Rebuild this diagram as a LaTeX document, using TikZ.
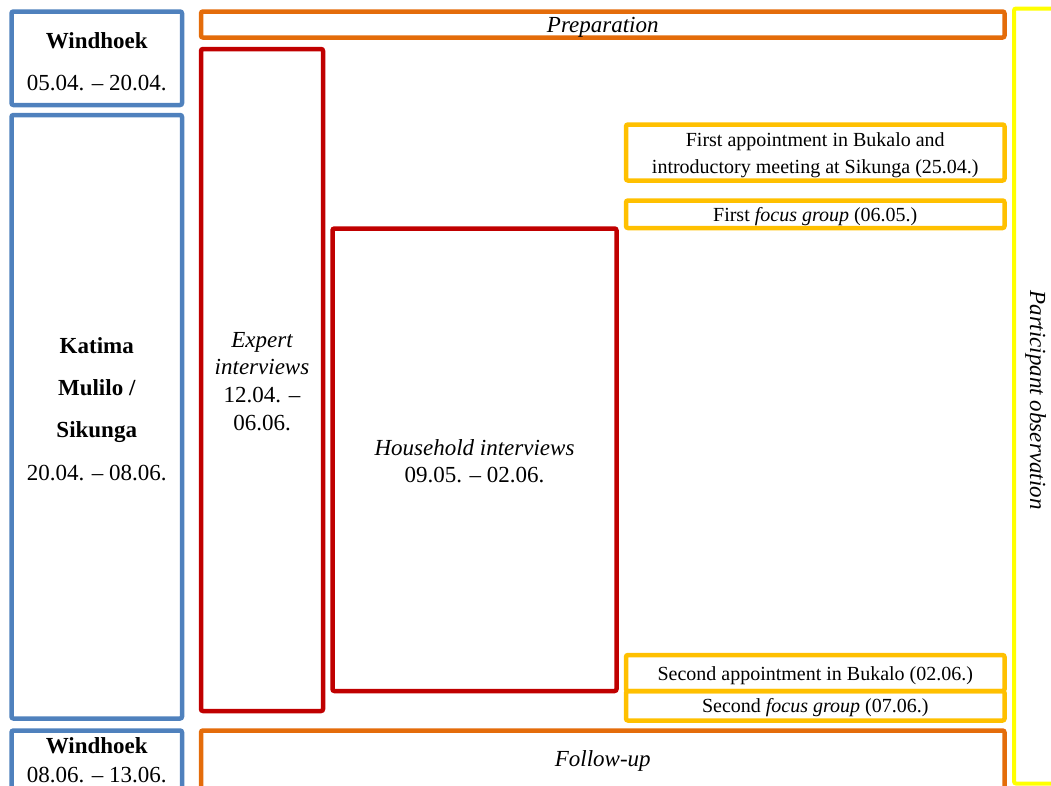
\documentclass[tikz,border=0pt]{standalone}
\usepackage{fontspec}
\setmainfont{Liberation Serif}
\definecolor{cblue}{HTML}{4F81BD}
\definecolor{corange}{HTML}{E46C0A}
\definecolor{cred}{HTML}{C00000}
\definecolor{cgold}{HTML}{FFC000}
\definecolor{cyellow}{HTML}{FFFF00}
\tikzset{
  frame/.style={draw, line width=4.5pt, rounded corners=2pt, inner sep=0pt, fill=none},
  placebox/.style={frame, draw=cblue},
  phasebox/.style={frame, draw=corange},
  interviewbox/.style={frame, draw=cred},
  eventbox/.style={frame, draw=cgold},
  obsbox/.style={frame, draw=cyellow, line width=4pt},
  lbl/.style={anchor=base, inner sep=0pt, font=\fontsize{23}{27}\selectfont},
  small/.style={anchor=base, inner sep=0pt, font=\fontsize{20}{24}\selectfont}
}
\begin{document}
\begin{tikzpicture}[x=1pt, y=-1pt]
\useasboundingbox (0,0) rectangle (1051,785);

% places (left column)
\node[placebox, minimum width=170.5pt, minimum height=93.5pt] (win1) at (96.75,58.25) {};
\node[placebox, minimum width=170.5pt, minimum height=603.5pt] (katima) at (96.75,416.75) {};
\node[placebox, minimum width=170.5pt, minimum height=64.5pt] (win2) at (96.75,762.75) {};

\node[lbl] (win1a) at (96.75,48) {\bfseries Windhoek};
\node[lbl] (win1b) at (96.75,90) {05.04. – 20.04.};

\node[lbl] (kat1) at (96.75,353) {\bfseries Katima};
\node[lbl] (kat2) at (96.75,395) {\bfseries Mulilo /};
\node[lbl] (kat3) at (96.75,437) {\bfseries Sikunga};
\node[lbl] (kat4) at (96.75,480) {20.04. – 08.06.};

\node[lbl] (win2a) at (96.75,753) {\bfseries Windhoek};
\node[lbl] (win2b) at (96.75,782) {08.06. – 13.06.};

% preparation and follow-up
\node[phasebox, minimum width=803.5pt, minimum height=26pt] (prep) at (602.75,24.5) {};
\node[lbl] (prept) at (602.75,32) {\itshape Preparation};
\node[phasebox, minimum width=803.5pt, minimum height=64.5pt] (follow) at (602.75,762.75) {};
\node[lbl] (followt) at (602.75,766) {\itshape Follow-up};

% interviews
\node[interviewbox, minimum width=122pt, minimum height=662pt] (expert) at (262,380) {};
\node[lbl] (exp1) at (262,347) {\itshape Expert};
\node[lbl] (exp2) at (262,374.5) {\itshape interviews};
\node[lbl] (exp3) at (262,402) {12.04. –};
\node[lbl] (exp4) at (262,430) {06.06.};

\node[interviewbox, minimum width=284pt, minimum height=462.5pt] (house) at (474.5,459.75) {};
\node[lbl] (house1) at (474.5,455) {\itshape Household interviews};
\node[lbl] (house2) at (474.5,482) {09.05. – 02.06.};

% events
\node[eventbox, minimum width=378.5pt, minimum height=56pt] (appt1) at (815.25,152.5) {};
\node[small] (appt1a) at (815.25,146.7) {First appointment in Bukalo and};
\node[small] (appt1b) at (815.25,173.3) {introductory meeting at Sikunga (25.04.)};

\node[eventbox, minimum width=378.5pt, minimum height=27.5pt] (focus1) at (815.25,214.25) {};
\node[small] (focus1t) at (815.25,221.7) {First \textit{focus group} (06.05.)};

\node[eventbox, minimum width=378.5pt, minimum height=36pt] (appt2) at (815.25,673) {};
\node[small] (appt2t) at (815.25,680) {Second appointment in Bukalo (02.06.)};

\node[eventbox, minimum width=378.5pt, minimum height=29.5pt] (focus2) at (815.25,705.75) {};
\node[small] (focus2t) at (815.25,712.7) {Second \textit{focus group} (07.06.)};

% participant observation (right column)
\node[obsbox, minimum width=56pt, minimum height=775pt] (obs) at (1042,396) {};
\node[lbl, rotate=-90] (obst) at (1030,400) {\itshape Participant observation};
\end{tikzpicture}
\end{document}
